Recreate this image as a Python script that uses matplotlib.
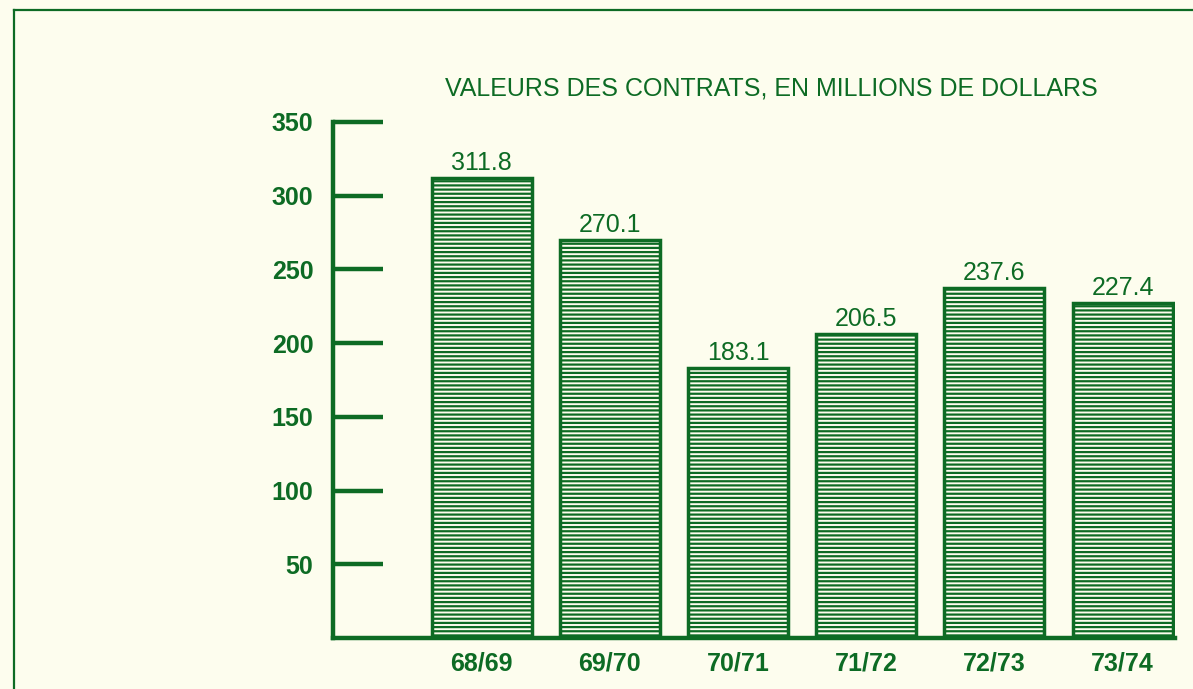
import numpy as np
import matplotlib.pyplot as plt
from matplotlib.lines import Line2D

# Data
years = ["68/69", "69/70", "70/71", "71/72", "72/73", "73/74"]
values = [311.8, 270.1, 183.1, 206.5, 237.6, 227.4]
yticks = [50, 100, 150, 200, 250, 300, 350]

green = "#0d6b24"
paper = "#fdfdee"

plt.rcParams['font.family'] = ['Liberation Sans', 'DejaVu Sans']
plt.rcParams['hatch.linewidth'] = 1.6
plt.rcParams['hatch.color'] = green

fig = plt.figure(figsize=(11.93, 6.89), dpi=100)
fig.patch.set_facecolor(paper)
ax = fig.add_axes([0.279, 0.074, 0.706, 0.749])
ax.set_facecolor(paper)

x = np.arange(len(years))
ax.bar(x, values, width=0.78, facecolor=paper, edgecolor=green,
       hatch="----", linewidth=2.5, zorder=2)

for xi, v in zip(x, values):
    ax.text(xi, v + 2, f"{v:.1f}", ha="center", va="bottom",
            fontsize=18, color=green)

ax.set_xlim(-1.16, 5.41)
ax.set_ylim(0, 350)
ax.set_xticks(x)
ax.set_xticklabels(years, fontsize=18, color=green, fontweight="bold")
ax.set_yticks(yticks)
ax.set_yticklabels([str(t) for t in yticks], fontsize=18, color=green,
                   fontweight="bold")
ax.tick_params(axis="x", length=0, pad=10)
ax.tick_params(axis="y", direction="in", length=36, width=3.2,
               color=green, pad=14)

for s in ["top", "right"]:
    ax.spines[s].set_visible(False)
for s in ["left", "bottom"]:
    ax.spines[s].set_color(green)
    ax.spines[s].set_linewidth(3.2)

fig.text(0.647, 0.872, "VALEURS DES CONTRATS, EN MILLIONS DE DOLLARS",
         ha="center", va="center", fontsize=18, color=green)

# page frame lines
fig.add_artist(Line2D([0.012, 1.0], [0.985, 0.985], color=green, lw=1.6))
fig.add_artist(Line2D([0.012, 0.012], [0.0, 0.985], color=green, lw=1.6))

fig.savefig("out.png", dpi=100, facecolor=paper)
